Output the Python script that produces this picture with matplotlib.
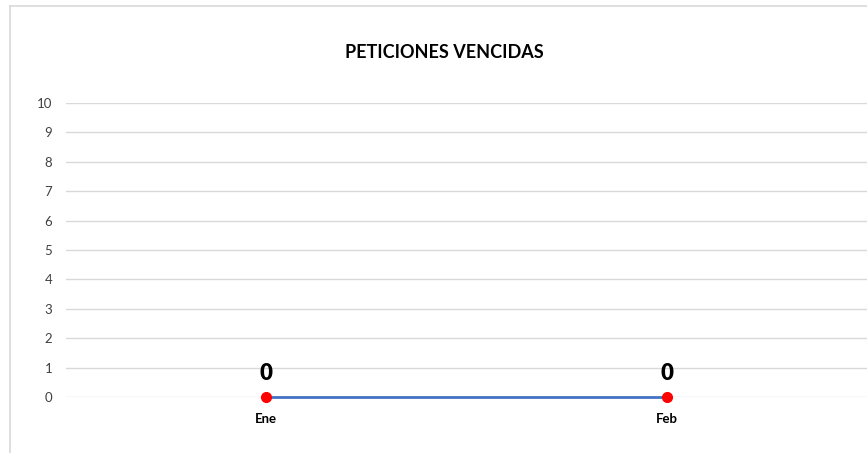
import matplotlib
matplotlib.use("Agg")
import matplotlib.pyplot as plt
from matplotlib.lines import Line2D

categories = ["Ene", "Feb"]
values = [0, 0]
y_ticks = list(range(0, 11))
title = "PETICIONES VENCIDAS"

plt.rcParams['font.family'] = ['Lato', 'DejaVu Sans']

W, H = 867, 453
fig = plt.figure(figsize=(W / 100, H / 100), dpi=100)
ax = fig.add_axes([66 / W, 1 - 397 / H, (W - 66) / W, (397 - 103) / H])

x = list(range(len(categories)))
ax.plot(x, values, color="#4472C4", linewidth=2, zorder=3, clip_on=False)
ax.plot(x, values, linestyle="none", marker="o", markersize=7,
        markerfacecolor="#FF0000", markeredgecolor="#FF0000", zorder=4,
        clip_on=False)
for xi, v in zip(x, values):
    ax.annotate(str(v), (xi, v), xytext=(0, 17), textcoords="offset points",
                ha="center", va="center", fontsize=16, fontweight="heavy",
                color="#000000")

ax.set_xlim(-0.5, len(categories) - 0.5)
ax.set_ylim(0, 10)
ax.set_yticks(y_ticks)
ax.set_yticklabels([str(t) for t in y_ticks])
ax.set_xticks(x)
ax.set_xticklabels(categories, fontweight="bold", fontsize=9.5, color="#000000")
ax.tick_params(axis="y", length=0, pad=10, labelsize=9.5, labelcolor="#404040")
ax.tick_params(axis="x", length=0, pad=11.5)
ax.grid(axis="y", color="#D9D9D9", linewidth=1)
ax.set_axisbelow(True)
for s in ax.spines.values():
    s.set_visible(False)

# chart border (left and top visible)
fig.add_artist(Line2D([9.5 / W, 9.5 / W], [0, 1 - 5.5 / H], color="#D9D9D9",
                      linewidth=1.2, transform=fig.transFigure))
fig.add_artist(Line2D([9.5 / W, 1], [1 - 5.5 / H, 1 - 5.5 / H], color="#D9D9D9",
                      linewidth=1.2, transform=fig.transFigure))

fig.text(444 / W, 1 - 52 / H, title, ha="center", va="center",
         fontsize=13, fontweight="bold", color="#000000")

fig.savefig("out.png", dpi=100)
